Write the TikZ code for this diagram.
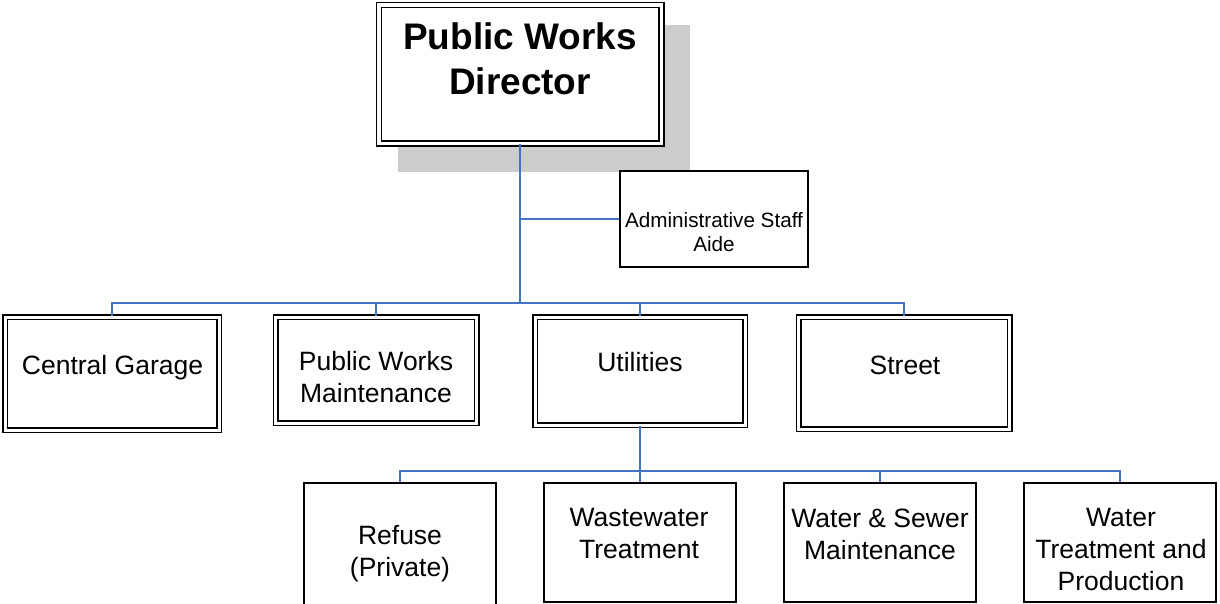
\documentclass[tikz,border=0pt]{standalone}
\usepackage{fontspec}
\setmainfont{Liberation Sans}
\usetikzlibrary{positioning,calc}

\definecolor{linkblue}{RGB}{68,114,196}
\definecolor{shadowgray}{RGB}{204,204,204}

\begin{document}
\begin{tikzpicture}[
    x=1pt, y=-1pt,
    director/.style={rectangle, draw=black, line width=1.5pt, double=white, double distance=3.5pt, fill=white, inner sep=0pt, minimum width=282.5pt, minimum height=138.5pt},
    unit/.style={rectangle, draw=black, line width=1.5pt, double=white, double distance=3pt, fill=white, inner sep=0pt},
    section/.style={rectangle, draw=black, line width=2pt, fill=white, inner sep=0pt, minimum width=192pt, minimum height=119pt},
    staff/.style={rectangle, draw=black, line width=2pt, fill=white, inner sep=0pt, minimum width=188pt, minimum height=96pt},
    title/.style={font=\fontsize{37}{44.5}\selectfont\bfseries, align=center, inner sep=0pt},
    txt/.style={font=\fontsize{26.5}{32}\selectfont, align=center, inner sep=0pt},
    small/.style={font=\fontsize{20.7}{24}\selectfont, align=center, inner sep=0pt},
    link/.style={draw=linkblue, line width=2pt}
]
\path[use as bounding box, clip] (0,0) rectangle (1220,604);

% Director with shadow
\fill[shadowgray] (398,25) rectangle (690,172);
\coordinate (hub) at (520,303);
\coordinate (hub2) at (640,471);

% Director and staff aide
\node[director] (dir) at (520,74.5) {};
\node[staff] (aide) at (714,219) {};
\draw[link] (dir.south) -- (hub);
\draw[link] (aide.west -| dir.south) -- (aide.west);

% Divisions
\node[unit, minimum width=214pt, minimum height=113pt] (garage) at (112,373.5) {};
\node[unit, minimum width=201pt, minimum height=106pt] (pwm) at (376,370) {};
\node[unit, minimum width=210pt, minimum height=108pt] (util) at (640,371) {};
\node[unit, minimum width=211pt, minimum height=112pt] (street) at (904,373) {};
\draw[link] (garage.north) |- (hub) -| (street.north);
\draw[link] (pwm.north) -- (pwm.north |- hub);
\draw[link] (util.north) -- (util.north |- hub);

% Utilities sections
\node[section, minimum height=157pt] (refuse) at (400,561.5) {};
\node[section] (waste) at (640,542.5) {};
\node[section] (sewer) at (880,542.5) {};
\node[section] (watertp) at (1120,542.5) {};
\draw[link] (util.south) -- (hub2);
\draw[link] (refuse.north) |- (hub2) -| (watertp.north);
\draw[link] (waste.north) -- (waste.north |- hub2);
\draw[link] (sewer.north) -- (sewer.north |- hub2);

% Texts
\node[title] (dir-txt) at (520,59) {Public Works\\Director};
\node[small] (aide-txt) at (714,232.5) {Administrative Staff\\Aide};
\node[txt] (garage-txt) at (112.5,368) {Central Garage};
\node[txt] (pwm-txt) at (376,377.4) {Public Works\\Maintenance};
\node[txt] (util-txt) at (640,362.3) {Utilities};
\node[txt] (street-txt) at (905,365.5) {Street};
\node[txt] (refuse-txt) at (400,554) {Refuse\\(Private)};
\node[txt] (waste-txt) at (639,534) {Wastewater\\Treatment};
\node[txt] (sewer-txt) at (880,534) {Water \& Sewer\\Maintenance};
\node[txt] (watertp-txt) at (1121,550) {Water\\Treatment and\\Production};

\end{tikzpicture}
\end{document}
